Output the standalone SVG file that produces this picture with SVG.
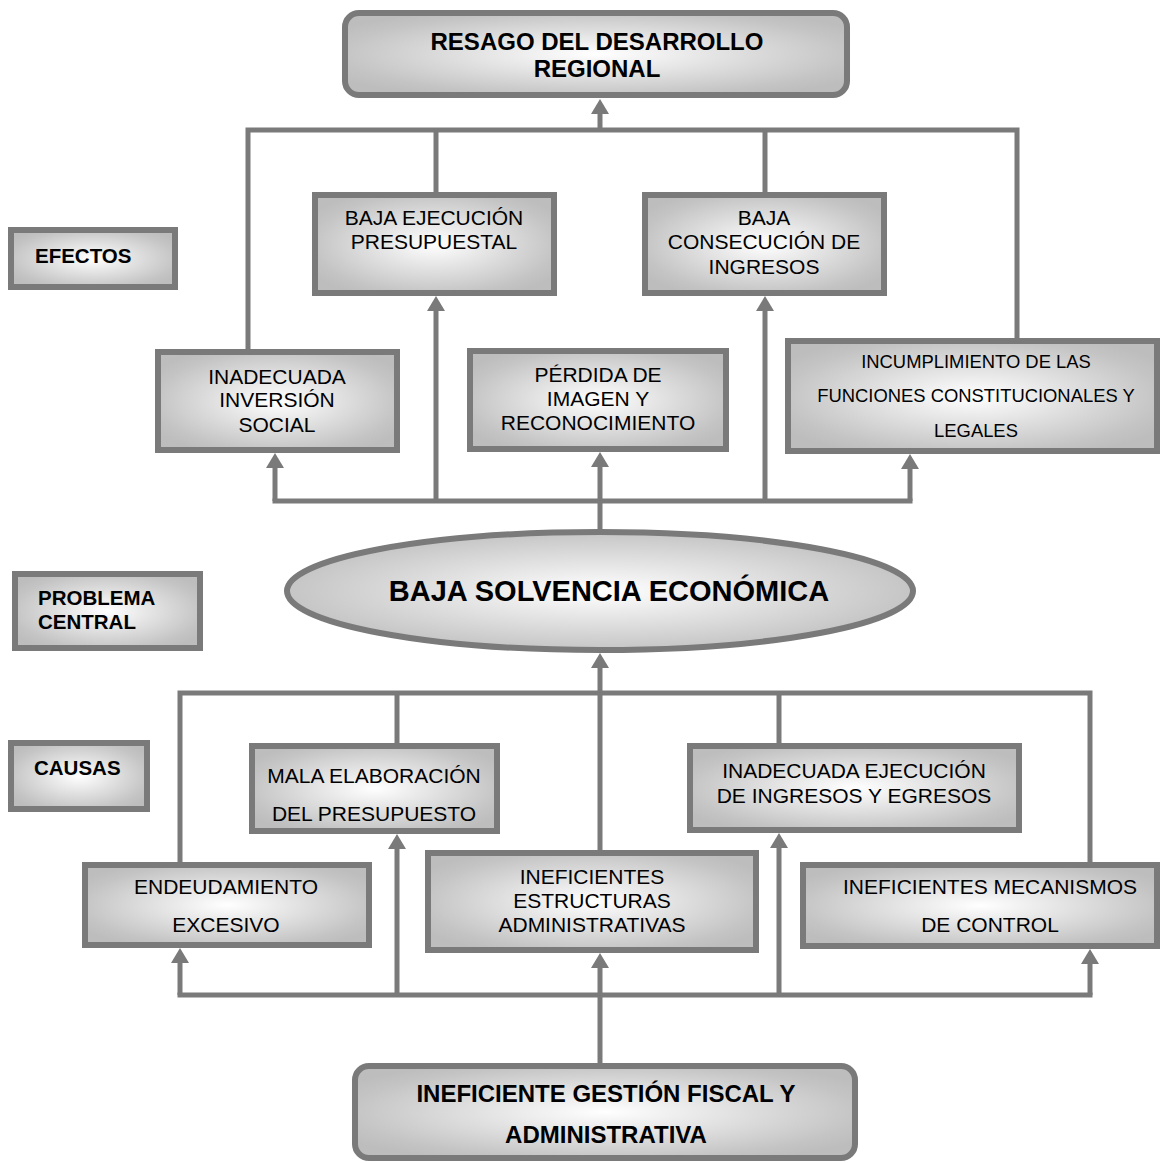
<svg xmlns="http://www.w3.org/2000/svg" width="1162" height="1163" viewBox="0 0 1162 1163">
  <defs>
    <radialGradient id="shade" cx="0.5" cy="0.5" r="0.6">
      <stop offset="0" stop-color="#ffffff"/>
      <stop offset="0.85" stop-color="#c4c4c4"/>
      <stop offset="1" stop-color="#bdbdbd"/>
    </radialGradient>
    <marker id="ah" viewBox="0 -9 15 18" refX="0" refY="0" markerWidth="15" markerHeight="18" markerUnits="userSpaceOnUse" orient="auto">
      <path d="M0,-9 L15,0 L0,9 z" fill="#7a7a7a"/>
    </marker>
    <style>
      .box { fill: url(#shade); stroke: #7a7a7a; stroke-width: 6; }
      .ln { fill: none; stroke: #7a7a7a; stroke-width: 5; stroke-linejoin: miter; }
      .bar { fill: none; stroke: #7a7a7a; stroke-width: 5; stroke-linecap: square; }
      .arr { fill: none; stroke: #7a7a7a; stroke-width: 5; marker-end: url(#ah); }
      text { font-family: "Liberation Sans", Arial, sans-serif; fill: #000; }
      .t { font-size: 21px; text-anchor: middle; }
      .ts { font-size: 18.4px; text-anchor: middle; }
      .tb { font-size: 24px; font-weight: bold; text-anchor: middle; }
      .lab { font-size: 20.5px; font-weight: bold; }
    </style>
  </defs>

  <!-- connectors -->
  <g id="connectors">
    <!-- effects: collector line feeding the top box -->
    <path class="ln" d="M248,352 V130 H1017 V341"/>
    <path class="ln" d="M436,130 V195"/>
    <path class="ln" d="M765,130 V195"/>
    <path class="arr" d="M600,130 V114"/>
    <!-- effects: distribution line from the central problem -->
    <path class="bar" d="M275,501 H910"/>
    <path class="arr" d="M275,501 V468"/>
    <path class="arr" d="M436,501 V311"/>
    <path class="arr" d="M600,529 V467"/>
    <path class="arr" d="M765,501 V311"/>
    <path class="arr" d="M910,501 V469"/>
    <!-- causes: collector line feeding the ellipse -->
    <path class="ln" d="M180,865 V693 H1090 V865"/>
    <path class="ln" d="M397,693 V746"/>
    <path class="ln" d="M779,693 V746"/>
    <path class="ln" d="M600,693 V853"/>
    <path class="arr" d="M600,693 V668"/>
    <!-- causes: distribution line from the root cause -->
    <path class="bar" d="M180,995 H1090"/>
    <path class="arr" d="M180,995 V963"/>
    <path class="arr" d="M397,995 V849"/>
    <path class="arr" d="M600,1066 V968"/>
    <path class="arr" d="M779,995 V848"/>
    <path class="arr" d="M1090,995 V964"/>
  </g>

  <!-- section labels -->
  <g id="label-efectos">
    <rect class="box" x="11" y="230" width="164" height="57"/>
    <text class="lab" x="35" y="263">EFECTOS</text>
  </g>
  <g id="label-problema">
    <rect class="box" x="15" y="574" width="185" height="74"/>
    <text class="lab" x="38" y="605">PROBLEMA</text>
    <text class="lab" x="38" y="629">CENTRAL</text>
  </g>
  <g id="label-causas">
    <rect class="box" x="11" y="743" width="136" height="66"/>
    <text class="lab" x="34" y="775">CAUSAS</text>
  </g>

  <!-- top effect -->
  <g id="resago">
    <rect class="box" x="345" y="13" width="502" height="82" rx="14"/>
    <text class="tb" x="597" y="50">RESAGO DEL DESARROLLO</text>
    <text class="tb" x="597" y="77">REGIONAL</text>
  </g>

  <!-- effects -->
  <g id="baja-ejecucion">
    <rect class="box" x="315" y="195" width="239" height="98"/>
    <text class="t" x="434" y="225">BAJA EJECUCIÓN</text>
    <text class="t" x="434" y="249">PRESUPUESTAL</text>
  </g>
  <g id="baja-consecucion">
    <rect class="box" x="645" y="195" width="239" height="98"/>
    <text class="t" x="764" y="225">BAJA</text>
    <text class="t" x="764" y="249">CONSECUCIÓN DE</text>
    <text class="t" x="764" y="274">INGRESOS</text>
  </g>
  <g id="inversion-social">
    <rect class="box" x="158" y="352" width="239" height="98"/>
    <text class="t" x="277" y="384">INADECUADA</text>
    <text class="t" x="277" y="407">INVERSIÓN</text>
    <text class="t" x="277" y="432">SOCIAL</text>
  </g>
  <g id="perdida-imagen">
    <rect class="box" x="470" y="351" width="256" height="98"/>
    <text class="t" x="598" y="382">PÉRDIDA DE</text>
    <text class="t" x="598" y="406">IMAGEN Y</text>
    <text class="t" x="598" y="430">RECONOCIMIENTO</text>
  </g>
  <g id="incumplimiento">
    <rect class="box" x="788" y="341" width="369" height="110"/>
    <text class="ts" x="976" y="368">INCUMPLIMIENTO DE LAS</text>
    <text class="ts" x="976" y="402">FUNCIONES CONSTITUCIONALES Y</text>
    <text class="ts" x="976" y="437">LEGALES</text>
  </g>

  <!-- central problem -->
  <g id="problema-central">
    <ellipse class="box" cx="600" cy="591" rx="313" ry="59"/>
    <text x="609" y="601" font-size="29px" font-weight="bold" text-anchor="middle">BAJA SOLVENCIA ECONÓMICA</text>
  </g>

  <!-- causes -->
  <g id="mala-elaboracion">
    <rect class="box" x="252" y="746" width="245" height="85"/>
    <text class="t" x="374" y="783">MALA ELABORACIÓN</text>
    <text class="t" x="374" y="821">DEL PRESUPUESTO</text>
  </g>
  <g id="ejecucion-ingresos">
    <rect class="box" x="690" y="746" width="329" height="84"/>
    <text class="t" x="854" y="778">INADECUADA EJECUCIÓN</text>
    <text class="t" x="854" y="803">DE INGRESOS Y EGRESOS</text>
  </g>
  <g id="endeudamiento">
    <rect class="box" x="85" y="865" width="284" height="80"/>
    <text class="t" x="226" y="894">ENDEUDAMIENTO</text>
    <text class="t" x="226" y="932">EXCESIVO</text>
  </g>
  <g id="estructuras">
    <rect class="box" x="428" y="853" width="328" height="97"/>
    <text class="t" x="592" y="884">INEFICIENTES</text>
    <text class="t" x="592" y="908">ESTRUCTURAS</text>
    <text class="t" x="592" y="932">ADMINISTRATIVAS</text>
  </g>
  <g id="mecanismos-control">
    <rect class="box" x="803" y="865" width="354" height="81"/>
    <text class="t" x="990" y="894" font-size="20px">INEFICIENTES MECANISMOS</text>
    <text class="t" x="990" y="932" font-size="20px">DE CONTROL</text>
  </g>

  <!-- root cause -->
  <g id="gestion-fiscal">
    <rect class="box" x="355" y="1066" width="500" height="92" rx="14"/>
    <text class="tb" x="606" y="1102">INEFICIENTE GESTIÓN FISCAL Y</text>
    <text class="tb" x="606" y="1143">ADMINISTRATIVA</text>
  </g>
</svg>
